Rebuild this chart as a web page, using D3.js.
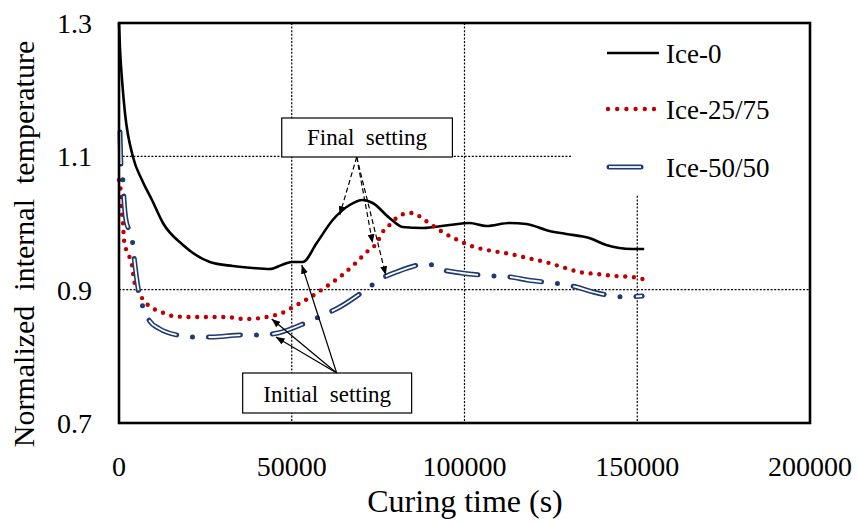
<!DOCTYPE html>
<html>
<head>
<meta charset="utf-8">
<script src="https://cdnjs.cloudflare.com/ajax/libs/d3/7.8.5/d3.min.js"></script>
<style>
    body { margin: 0; background: #fff; }
    text { font-family: "Liberation Serif", "Times New Roman", serif; fill: #000; white-space: pre; }
</style>
</head>
<body>
<div id="graphDiv"></div>
<script>
// data: [curing time (s), normalized temperature]
var ice0 = [
    [0, 1.30], [300, 1.26], [870, 1.215], [1730, 1.165], [4050, 1.099], [6650, 1.0645],
    [9540, 1.0345], [12720, 1.0], [18500, 0.967], [26300, 0.9415], [32950, 0.9355],
    [38730, 0.9325], [43640, 0.931], [47100, 0.937], [50000, 0.9415], [53200, 0.9415],
    [57220, 0.97], [61850, 1.0045], [66760, 1.027], [70520, 1.0345], [73400, 1.03],
    [78300, 1.0075], [82080, 0.994], [87860, 0.9925], [95660, 0.997], [101440, 1.0],
    [106350, 0.9955], [113000, 1.0], [117900, 0.9985], [124560, 0.988], [129470, 0.9835],
    [136100, 0.9775], [141030, 0.967], [148550, 0.961], [152000, 0.961]
];
var ice25 = [
    [0, 1.0645], [580, 1.042], [870, 1.015], [1160, 1.0], [1450, 0.9745], [2020, 0.961],
    [3760, 0.937], [4330, 0.9145], [5490, 0.898], [6650, 0.8875], [8380, 0.877],
    [10690, 0.8695], [13000, 0.865], [15600, 0.8605], [20500, 0.859], [25700, 0.859],
    [31200, 0.859], [36100, 0.856], [41300, 0.8575], [43900, 0.8605], [46500, 0.8635],
    [50900, 0.8755], [55500, 0.889], [59800, 0.904], [63900, 0.919], [68200, 0.9385],
    [71700, 0.9565], [74600, 0.97], [76300, 0.9865], [78300, 0.997], [80300, 1.0075],
    [82400, 1.0135], [85000, 1.015], [87300, 1.009], [89300, 1.0015], [93600, 0.9865],
    [98000, 0.9745], [102900, 0.964], [108100, 0.958], [113300, 0.9535], [118200, 0.9475],
    [123400, 0.9415], [128300, 0.934], [133200, 0.9265], [138400, 0.9235], [143600, 0.9205],
    [148500, 0.919], [153700, 0.913]
];
var ice50 = [
    [290, 1.1365], [580, 1.0855], [1160, 1.0615], [1450, 1.0345], [2020, 1.0045],
    [3760, 0.9775], [4330, 0.9505], [5490, 0.904], [6650, 0.8785], [8670, 0.8545],
    [11850, 0.841], [16760, 0.832], [21700, 0.829], [26600, 0.829], [35800, 0.832],
    [41000, 0.832], [46000, 0.835], [54600, 0.8515], [59200, 0.862], [63900, 0.874],
    [71700, 0.901], [75700, 0.916], [80300, 0.9265], [89300, 0.9385], [93900, 0.9295],
    [99100, 0.925], [108400, 0.9205], [113300, 0.919], [118200, 0.9145], [127700, 0.9085],
    [132400, 0.904], [137300, 0.8965], [146500, 0.889], [151400, 0.8905]
];
var seriesNames = ["Ice-0", "Ice-25/75", "Ice-50/50"];
var xTicks = [0, 50000, 100000, 150000, 200000];
var yTicks = [0.7, 0.9, 1.1, 1.3];
var xGrid = [50000, 100000, 150000];
var yGrid = [0.9, 1.1];

// annotations (data units)
var finalApex = [68800, 1.099],
    finalTargets = [[63870, 1.012], [73400, 0.97], [77200, 0.922]],
    finalBox = [47100, 96500, 1.1575, 1.099];
var initApex = [63000, 0.775],
    initTargets = [[52900, 0.937], [44200, 0.856], [45400, 0.829]],
    initBox = [35800, 84700, 0.775, 0.715];

var W = 858, H = 522;

var xScale = d3.scaleLinear().domain([0, 200000]).range([119, 810]);
var yScale = d3.scaleLinear().domain([0.7, 1.3]).range([423, 23]);

var svg = d3.select("#graphDiv").append("svg")
    .attr("width", W).attr("height", H);

var defs = svg.append("defs");
defs.append("marker")
    .attr("id", "head")
    .attr("viewBox", "0 0 10 8")
    .attr("refX", 10).attr("refY", 4)
    .attr("markerWidth", 9).attr("markerHeight", 7)
    .attr("markerUnits", "userSpaceOnUse")
    .attr("orient", "auto")
    .append("path").attr("d", "M0,0 L10,4 L0,8 z").attr("fill", "#000");

function label(g, x, y, str, size, anchor, rot) {
    var t = "translate(" + x + "," + y + ")" + (rot ? " rotate(" + rot + ")" : "");
    return g.append("text")
        .attr("transform", t)
        .attr("text-anchor", anchor || "start")
        .attr("xml:space", "preserve")
        .style("font-size", size + "px")
        .text(str);
}

// grid
var grid = svg.append("g");
grid.selectAll("line.gx").data(xGrid).enter().append("line")
    .attr("x1", function (d) { return xScale(d); }).attr("x2", function (d) { return xScale(d); })
    .attr("y1", yScale(1.3)).attr("y2", yScale(0.7))
    .attr("stroke", "#000").attr("stroke-width", 1.2).attr("stroke-dasharray", "2,1.6");
grid.selectAll("line.gy").data(yGrid).enter().append("line")
    .attr("y1", function (d) { return yScale(d); }).attr("y2", function (d) { return yScale(d); })
    .attr("x1", xScale(0)).attr("x2", xScale(200000))
    .attr("stroke", "#000").attr("stroke-width", 1.2).attr("stroke-dasharray", "2,1.6");

// legend background hides the grid
svg.append("rect")
    .attr("x", 572).attr("y", yScale(1.3)).attr("width", xScale(200000) - 572).attr("height", 172)
    .attr("fill", "#fff");

// curves
var lineFunc = d3.line()
    .curve(d3.curveMonotoneX)
    .x(function (d) { return xScale(d[0]); })
    .y(function (d) { return yScale(d[1]); });

var lines = svg.append("g").attr("class", "lines").attr("fill", "none");
lines.append("path").attr("d", lineFunc(ice0))
    .attr("stroke", "#000").attr("stroke-width", 2.6);
lines.append("path").attr("d", lineFunc(ice25))
    .attr("stroke", "#c00000").attr("stroke-width", 4.4)
    .attr("stroke-linecap", "round").attr("stroke-dasharray", "0,8.7");
lines.append("path").attr("d", lineFunc(ice50))
    .attr("stroke", "#1f3a72").attr("stroke-width", 5)
    .attr("stroke-linecap", "round").attr("stroke-dasharray", "32,16,0,16");
lines.append("path").attr("d", lineFunc(ice50))
    .attr("stroke", "#fff").attr("stroke-width", 1.8)
    .attr("stroke-linecap", "butt").attr("stroke-dasharray", "32,16,0,16");

// annotation boxes and arrows
var ann = svg.append("g");
[[finalBox, "Final  setting", 145], [initBox, "Initial  setting", 402]].forEach(function (b) {
    var box = b[0];
    ann.append("rect")
        .attr("x", xScale(box[0])).attr("y", yScale(box[2]))
        .attr("width", xScale(box[1]) - xScale(box[0])).attr("height", yScale(box[3]) - yScale(box[2]))
        .attr("fill", "#fff").attr("stroke", "#000").attr("stroke-width", 1.2);
    label(ann, (xScale(box[0]) + xScale(box[1])) / 2, b[2], b[1], 23, "middle");
});
finalTargets.forEach(function (t) {
    ann.append("line")
        .attr("x1", xScale(finalApex[0])).attr("y1", yScale(finalApex[1]))
        .attr("x2", xScale(t[0])).attr("y2", yScale(t[1]))
        .attr("stroke", "#000").attr("stroke-width", 1.2).attr("stroke-dasharray", "5,3")
        .attr("marker-end", "url(#head)");
});
initTargets.forEach(function (t) {
    ann.append("line")
        .attr("x1", xScale(initApex[0])).attr("y1", yScale(initApex[1]))
        .attr("x2", xScale(t[0])).attr("y2", yScale(t[1]))
        .attr("stroke", "#000").attr("stroke-width", 1.2)
        .attr("marker-end", "url(#head)");
});

// frame
svg.append("rect")
    .attr("x", xScale(0)).attr("y", yScale(1.3))
    .attr("width", xScale(200000) - xScale(0)).attr("height", yScale(0.7) - yScale(1.3))
    .attr("fill", "none").attr("stroke", "#000").attr("stroke-width", 2.6);

// tick labels
var axes = svg.append("g");
yTicks.forEach(function (v) {
    label(axes, 92, yScale(v) + 10, v.toFixed(1), 28, "end");
});
xTicks.forEach(function (v) {
    label(axes, xScale(v), 476, String(v), 28, "middle");
});
label(axes, 465, 512, "Curing time (s)", 32, "middle");
label(axes, 34, 244, "Normalized  internal  temperature", 30, "middle", -90);

// legend
var legend = svg.append("g");
var ly = [53, 109, 167];
legend.append("line").attr("x1", 607).attr("x2", 659).attr("y1", ly[0]).attr("y2", ly[0])
    .attr("stroke", "#000").attr("stroke-width", 2.6);
legend.append("line").attr("x1", 608).attr("x2", 655).attr("y1", ly[1]).attr("y2", ly[1])
    .attr("stroke", "#c00000").attr("stroke-width", 4.4)
    .attr("stroke-linecap", "round").attr("stroke-dasharray", "0,9.2");
legend.append("line").attr("x1", 609).attr("x2", 641).attr("y1", ly[2]).attr("y2", ly[2])
    .attr("stroke", "#1f3a72").attr("stroke-width", 5).attr("stroke-linecap", "round");
legend.append("line").attr("x1", 609).attr("x2", 641).attr("y1", ly[2]).attr("y2", ly[2])
    .attr("stroke", "#fff").attr("stroke-width", 1.8);
seriesNames.forEach(function (n, i) {
    label(legend, 666, ly[i] + 10, n, 27, "start");
});
</script>
</body>
</html>
